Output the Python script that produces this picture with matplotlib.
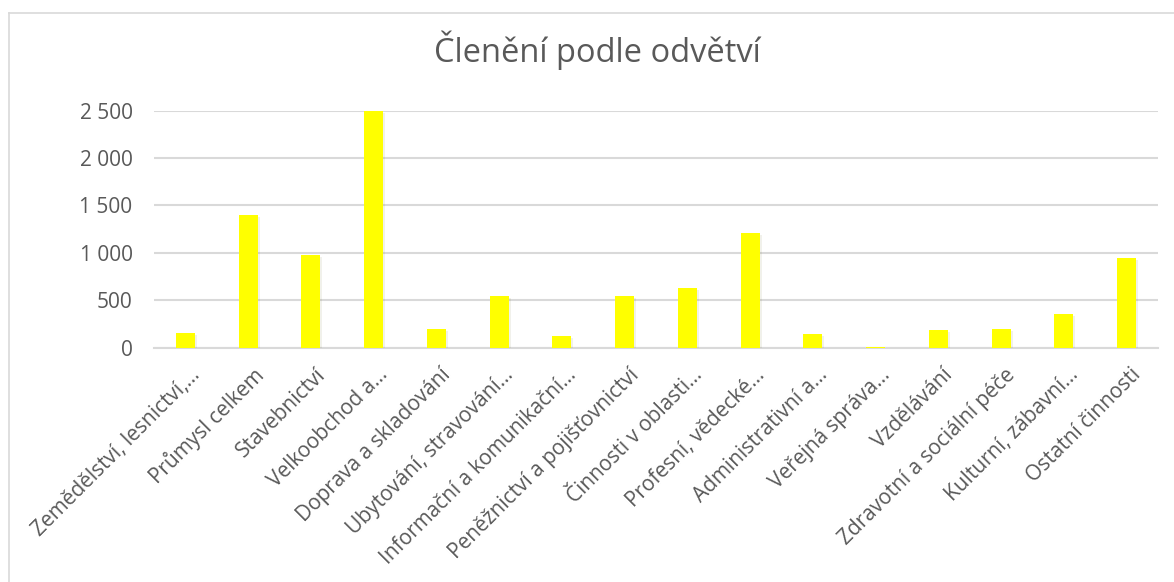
import matplotlib
matplotlib.use("Agg")
import matplotlib.pyplot as plt
import matplotlib.transforms as mtransforms
import matplotlib.patheffects as pe
from matplotlib.lines import Line2D

# Odvetvi a pocty
categories = [
    "Zemědělství, lesnictví,...",
    "Průmysl celkem",
    "Stavebnictví",
    "Velkoobchod a...",
    "Doprava a skladování",
    "Ubytování, stravování...",
    "Informační a komunikační...",
    "Peněžnictví a pojišťovnictví",
    "Činnosti v oblasti...",
    "Profesní, vědecké...",
    "Administrativní a...",
    "Veřejná správa...",
    "Vzdělávání",
    "Zdravotní a sociální péče",
    "Kulturní, zábavní...",
    "Ostatní činnosti",
]
values = [152, 1397, 981, 2500, 197, 548, 120, 548, 630, 1210, 145, 3, 187, 197, 356, 946]
y_ticks = [0, 500, 1000, 1500, 2000, 2500]
y_labels = ["0", "500", "1 000", "1 500", "2 000", "2 500"]

plt.rcParams["font.family"] = ["Open Sans", "DejaVu Sans"]
text_color = "#595959"
grid_color = "#d9d9d9"

fig = plt.figure(figsize=(11.74, 5.82), dpi=100)
ax = fig.add_axes([0.1312, 0.4026, 0.8552, 0.4072])

x = range(len(categories))
bars = ax.bar(x, values, width=0.30, color="#ffff00", zorder=3)
# slight shadow like the Excel bars
for b in bars:
    b.set_path_effects([pe.SimplePatchShadow(offset=(1.5, -1.5), alpha=0.08),
                        pe.Normal()])

ax.set_xlim(-0.5, len(categories) - 0.5)
ax.set_ylim(0, 2500)
ax.set_yticks(y_ticks)
ax.set_yticklabels(y_labels)
ax.set_xticks(list(x))
ax.set_xticklabels(categories, rotation=45, ha="right", va="top",
                   rotation_mode="anchor")

ax.grid(axis="y", color=grid_color, linewidth=1.5, zorder=0)
for side in ["top", "right", "left"]:
    ax.spines[side].set_visible(False)
ax.spines["bottom"].set_color(grid_color)
ax.spines["bottom"].set_linewidth(1.5)
ax.tick_params(axis="both", length=0, colors=text_color, labelsize=15)
ax.tick_params(axis="y", pad=15.5)
ax.tick_params(axis="x", pad=12)

# nudge x labels slightly right like Excel does
shift = mtransforms.ScaledTranslation(4 / 100, 0, fig.dpi_scale_trans)
for lbl in ax.get_xticklabels():
    lbl.set_transform(lbl.get_transform() + shift)

fig.text(0.5085, 0.914, "Členění podle odvětví", ha="center", va="center",
         fontsize=23.5, color=text_color)

# chart area border (only top and left visible)
fig.add_artist(Line2D([8.5 / 1174, 1], [1 - 12.5 / 582, 1 - 12.5 / 582],
                      transform=fig.transFigure, color=grid_color, linewidth=1.2))
fig.add_artist(Line2D([8.5 / 1174, 8.5 / 1174], [0, 1 - 12.5 / 582],
                      transform=fig.transFigure, color=grid_color, linewidth=1.2))

fig.savefig("out.png", dpi=100, facecolor="white")
